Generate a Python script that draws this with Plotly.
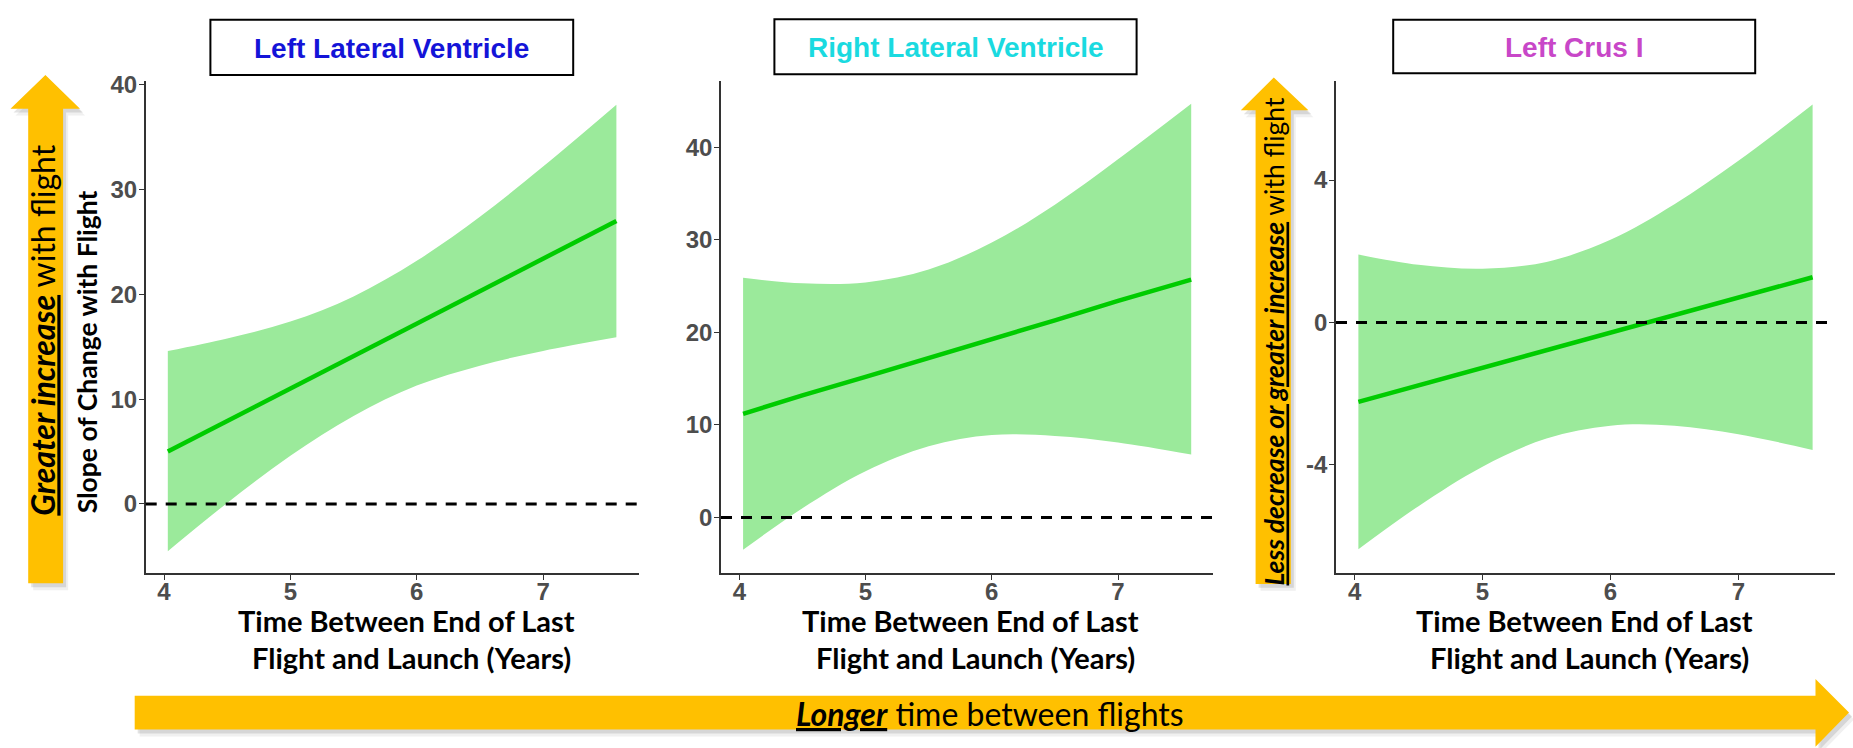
import plotly.graph_objects as go

W, H = 1853, 748

# Years between end of last flight and launch
years = [4.03, 4.5, 5.0, 5.5, 6.0, 6.5, 7.0, 7.58]

# Left Lateral Ventricle: fitted slope and confidence band
llv_fit = [5.0, 7.9, 11.0, 14.1, 17.2, 20.3, 23.4, 27.0]
llv_upper = [14.6, 15.8, 17.4, 19.8, 23.2, 27.4, 32.2, 38.1]
llv_lower = [-4.5, 0.1, 4.6, 8.4, 11.3, 13.2, 14.6, 15.9]

# Right Lateral Ventricle
rlv_fit = [11.2, 13.2, 15.2, 17.2, 19.3, 21.3, 23.4, 25.7]
rlv_upper = [25.9, 25.3, 25.4, 26.8, 29.7, 33.8, 38.7, 44.7]
rlv_lower = [-3.5, 1.0, 5.0, 7.7, 8.9, 8.8, 8.1, 6.8]

# Left Crus I
lci_fit = [-2.23, -1.77, -1.27, -0.78, -0.29, 0.21, 0.70, 1.27]
lci_upper = [1.91, 1.62, 1.51, 1.70, 2.32, 3.32, 4.54, 6.12]
lci_lower = [-6.37, -5.16, -4.05, -3.26, -2.90, -2.90, -3.14, -3.58]

panel_titles = ["Left Lateral Ventricle", "Right Lateral Ventricle", "Left Crus I"]
title_colors = ["#1414D8", "#1ADAE0", "#C847C8"]
x_ticks = [4, 5, 6, 7]
y_ticks = [[0, 10, 20, 30, 40], [0, 10, 20, 30, 40], [-4, 0, 4]]
y_tick_labels = [["0", "10", "20", "30", "40"], ["0", "10", "20", "30", "40"],
                 ["-4", "0", "4"]]
y_ranges = [[-6.59, 40.38], [-6.01, 47.19], [-7.04, 6.79]]
x_range = [3.855, 7.755]
x_title = ["Time Between End of Last", "Flight and Launch (Years)"]
y_title = "Slope of Change with Flight"

series = [
    (llv_fit, llv_upper, llv_lower),
    (rlv_fit, rlv_upper, rlv_lower),
    (lci_fit, lci_upper, lci_lower),
]

BAND = "rgb(155,234,155)"
LINE = "rgb(0,204,0)"
AXIS = "#333333"
TICK_FONT = dict(family="Liberation Sans, Arial, sans-serif", size=24,
                 color="#4D4D4D", weight="bold")
CAL = "Lato, Carlito, Calibri, sans-serif"


def px(x):
    return x / W


def py(y):
    return 1 - y / H


# plot areas in pixels (left, right)
x_dom_px = [(145.7, 638.5), (721.0, 1213.3), (1336.0, 1835.0)]
y_dom = [py(570.7), py(71.7)]

fig = go.Figure()

for i, (fit, up, lo) in enumerate(series):
    xa = "x" if i == 0 else f"x{i + 1}"
    ya = "y" if i == 0 else f"y{i + 1}"
    fig.add_trace(go.Scatter(x=years, y=up, mode="lines",
                             line=dict(width=0, shape="spline", color=BAND),
                             xaxis=xa, yaxis=ya, showlegend=False, hoverinfo="skip"))
    fig.add_trace(go.Scatter(x=years, y=lo, mode="lines", fill="tonexty",
                             fillcolor=BAND,
                             line=dict(width=0, shape="spline", color=BAND),
                             xaxis=xa, yaxis=ya, showlegend=False, hoverinfo="skip"))
    fig.add_trace(go.Scatter(x=years, y=fit, mode="lines",
                             line=dict(width=4.5, color=LINE),
                             xaxis=xa, yaxis=ya, showlegend=False))

    axis_common = dict(showline=True, linecolor=AXIS, linewidth=1.6,
                       ticks="outside", ticklen=5, tickwidth=1.3, tickcolor=AXIS,
                       showgrid=False, zeroline=False, tickfont=TICK_FONT)
    l, r = x_dom_px[i]
    fig.update_layout(**{
        ("xaxis" if i == 0 else f"xaxis{i + 1}"): dict(
            domain=[px(l), px(r)], range=x_range, tickvals=x_ticks,
            ticklabelstandoff=-9, anchor=ya, **axis_common),
        ("yaxis" if i == 0 else f"yaxis{i + 1}"): dict(
            domain=y_dom, range=y_ranges[i], tickvals=y_ticks[i],
            ticktext=y_tick_labels[i], ticklabelstandoff=-3,
            anchor=xa, **axis_common),
    })

    # zero reference line
    fig.add_shape(type="line", xref=f"{xa} domain", yref=ya,
                  x0=0, x1=1, y0=0, y1=0,
                  line=dict(color="black", width=3, dash="11px,9px"))

# boxed panel titles
title_boxes = [(210.4, 573.2, 10, 66), (774.4, 1136.6, 9.5, 65), (1393.2, 1755.2, 10, 64)]
for (x0, x1, y0, y1), text, col in zip(title_boxes, panel_titles, title_colors):
    fig.add_shape(type="rect", xref="paper", yref="paper",
                  x0=px(x0), x1=px(x1), y0=py(y1), y1=py(y0),
                  line=dict(color="black", width=2), fillcolor="white")
    fig.add_annotation(x=px((x0 + x1) / 2), y=py((y0 + y1) / 2 + 1),
                       xref="paper", yref="paper", showarrow=False,
                       text=f"<b>{text}</b>", xanchor="center", yanchor="middle",
                       font=dict(family="Liberation Sans, Arial, sans-serif",
                                 size=28, color=col))

# x axis titles, two lines under each panel
x_title_pos = [(406, 411.4), (970, 975.7), (1584, 1589)]
for c1, c2 in x_title_pos:
    for cx, cy, line in ((c1, 619, x_title[0]), (c2, 656.7, x_title[1])):
        fig.add_annotation(x=px(cx), y=py(cy), xref="paper", yref="paper",
                           showarrow=False, text=f"<b>{line}</b>",
                           xanchor="center", yanchor="middle",
                           font=dict(family=CAL, size=29, color="black"))


def path(points):
    s = "M " + " L ".join(f"{px(x):.5f},{py(y):.5f}" for x, y in points) + " Z"
    return s


ORANGE = "#FFC000"
arrows = [
    [(28.2, 581), (28.2, 100), (10.5, 100), (45.4, 66), (80, 100), (63.1, 100), (63.1, 581)],
    [(1255.6, 581.7), (1255.6, 101.7), (1240.8, 101.7), (1273.8, 68.3), (1308.4, 101.7),
     (1290.8, 101.7), (1290.8, 581.7)],
    [(134.7, 695), (1815.5, 695), (1815.5, 678), (1849, 712), (1815.5, 746.7),
     (1815.5, 729.3), (134.7, 729.3)],
]
for pts in arrows:
    for dx, dy, op in ((5, 7, 0.08), (3, 4, 0.14)):
        fig.add_shape(type="path", xref="paper", yref="paper",
                      path=path([(x + dx, y + dy) for x, y in pts]),
                      fillcolor=f"rgba(60,60,60,{op})", line=dict(width=0))
    fig.add_shape(type="path", xref="paper", yref="paper", path=path(pts),
                  fillcolor=ORANGE, line=dict(width=0))

# arrow captions
fig.add_annotation(x=px(43), y=py(325), xref="paper", yref="paper", showarrow=False,
                   textangle=-90, xanchor="center", yanchor="middle",
                   text="<b><i><u>Greater increase</u></i></b> with flight",
                   font=dict(family=CAL, size=32, color="black"))
fig.add_annotation(x=px(1274), y=py(336), xref="paper", yref="paper", showarrow=False,
                   textangle=-90, xanchor="center", yanchor="middle",
                   text="<b><i><u>Less decrease or greater increase</u></i></b> with flight",
                   font=dict(family=CAL, size=26.5, color="black"))
fig.add_annotation(x=px(990), y=py(713), xref="paper", yref="paper", showarrow=False,
                   xanchor="center", yanchor="middle",
                   text="<b><i><u>Longer</u></i></b> time between flights",
                   font=dict(family=CAL, size=32, color="black"))

# y axis title of the first panel
fig.add_annotation(x=px(87), y=py(347), xref="paper", yref="paper", showarrow=False,
                   textangle=-90, xanchor="center", yanchor="middle",
                   text=f"<b>{y_title}</b>",
                   font=dict(family=CAL, size=26.5, color="black"))

fig.update_layout(width=W, height=H, margin=dict(l=0, r=0, t=0, b=0),
                  paper_bgcolor="white", plot_bgcolor="white", showlegend=False)

fig.write_html("out.html")
